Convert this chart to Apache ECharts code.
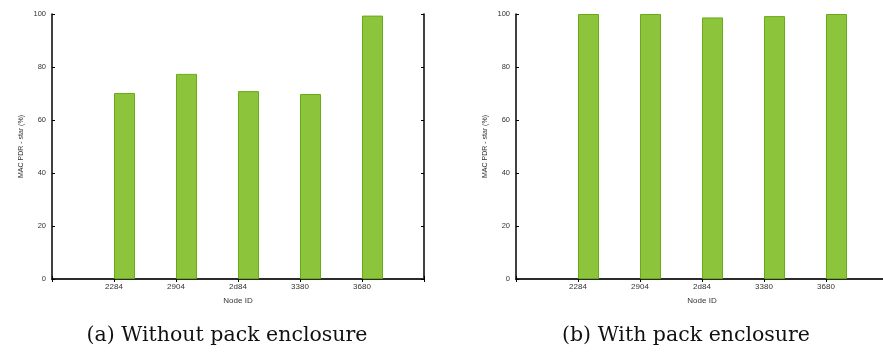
<!DOCTYPE html>
<html>
<head>
<meta charset="utf-8">
<script src="https://cdn.jsdelivr.net/npm/echarts@6/dist/echarts.min.js"></script>
<style>
  html, body { margin: 0; padding: 0; background: #fff; }
  #chart { width: 883px; height: 353px; }
</style>
</head>
<body>
<div id="chart"></div>
<script>
// Node IDs shown along the x axis
const nodeIds = ['2284', '2904', '2d84', '3380', '3680'];
// MAC packet delivery ratio per node, star topology (%)
const pdrWithout = [70.2, 77.4, 70.9, 69.8, 99.4];
const pdrWith = [100, 100, 98.7, 99.2, 100];
// Y axis ticks
const yTicks = [0, 20, 40, 60, 80, 100];
const captions = ['(a) Without pack enclosure', '(b) With pack enclosure'];

// one empty slot on each side of the node list, so the range runs from -1 to 5
const axisCats = [''].concat(nodeIds, ['']);
const pad = arr => [null].concat(arr, [null]);

const labelFont = 'Liberation Sans, Arial, sans-serif';
const frameColor = '#2b2b2b';
const barFill = '#8cc43c';
const barEdge = '#6aaa16';

// the second panel runs slightly past the right edge of the canvas
const grids = [
  { left: 52, top: 14, width: 372, height: 265, outerBoundsMode: 'none' },
  { left: 516, top: 14, width: 372, height: 265, outerBoundsMode: 'none' }
];

const xAxes = [];
const yAxes = [];
const series = [];

grids.forEach((g, i) => {
  // bottom category axis with labels
  xAxes.push({
    type: 'category', gridIndex: i, data: axisCats, boundaryGap: false,
    position: 'bottom',
    name: 'Node ID', nameLocation: 'middle', nameGap: 18,
    nameTextStyle: { fontFamily: labelFont, fontSize: 8, color: '#333' },
    axisLine: { lineStyle: { color: frameColor, width: 2 } },
    axisTick: { inside: true, length: 3, lineStyle: { color: '#000' } },
    axisLabel: { fontFamily: labelFont, fontSize: 8, color: '#333', margin: 4, interval: 0 },
    splitLine: { show: false }
  });
  // mirrored top axis carrying the inward ticks
  xAxes.push({
    type: 'category', gridIndex: i, data: axisCats, boundaryGap: false,
    position: 'top',
    axisLine: { lineStyle: { color: frameColor, width: 2 } },
    axisTick: { inside: true, length: 3, lineStyle: { color: '#000' } },
    axisLabel: { show: false },
    splitLine: { show: false }
  });
  yAxes.push({
    type: 'value', gridIndex: i, min: yTicks[0], max: yTicks[yTicks.length - 1], interval: yTicks[1] - yTicks[0],
    position: 'left',
    name: 'MAC PDR - star (%)', nameLocation: 'middle', nameGap: 27, nameRotate: 90,
    nameTextStyle: { fontFamily: labelFont, fontSize: 7, color: '#333' },
    axisLine: { show: true, lineStyle: { color: '#000', width: 1.5 } },
    axisTick: { show: true, inside: true, length: 3, lineStyle: { color: '#000' } },
    axisLabel: { fontFamily: labelFont, fontSize: 7.5, color: '#333', margin: 6 },
    splitLine: { show: false }
  });
  yAxes.push({
    type: 'value', gridIndex: i, min: yTicks[0], max: yTicks[yTicks.length - 1], interval: yTicks[1] - yTicks[0],
    position: 'right',
    axisLine: { show: true, lineStyle: { color: '#000', width: 1.5 } },
    axisTick: { show: true, inside: true, length: 3, lineStyle: { color: '#000' } },
    axisLabel: { show: false },
    splitLine: { show: false }
  });

  const values = i === 0 ? pdrWithout : pdrWith;
  // empty companion series so the visible bar starts at the tick
  series.push({
    type: 'bar', xAxisIndex: i * 2, yAxisIndex: i * 2,
    data: pad(values.map(() => null)), barWidth: 21, barGap: '0%',
    silent: true
  });
  series.push({
    type: 'bar', xAxisIndex: i * 2, yAxisIndex: i * 2,
    data: pad(values), barWidth: 21, barGap: '0%',
    itemStyle: { color: barFill, borderColor: barEdge, borderWidth: 1 },
    z: 1
  });
});

const captionFont = '20.5px "DejaVu Serif", serif';
const chart = echarts.init(document.getElementById('chart'), null, { renderer: 'canvas' });
chart.setOption({
  animation: false,
  backgroundColor: '#fff',
  grid: grids,
  xAxis: xAxes,
  yAxis: yAxes,
  series: series,
  graphic: [
    { type: 'text', x: 227, y: 336, style: { text: captions[0], font: captionFont, fill: '#111', align: 'center', verticalAlign: 'middle' } },
    { type: 'text', x: 686, y: 336, style: { text: captions[1], font: captionFont, fill: '#111', align: 'center', verticalAlign: 'middle' } }
  ]
});
</script>
</body>
</html>
